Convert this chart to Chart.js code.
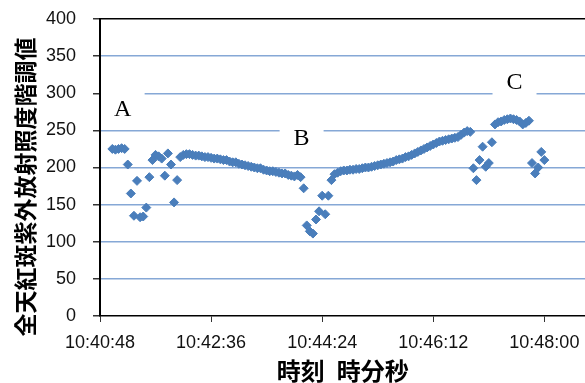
<!DOCTYPE html>
<html>
<head>
<meta charset="utf-8">
<script src="https://cdn.jsdelivr.net/npm/chart.js@4.4.0/dist/chart.umd.min.js"></script>
<style>
    html, body { margin: 0; padding: 0; background: #fff; overflow: hidden; }
    #wrap { width: 591px; height: 383px; }
</style>
</head>
<body>
<div id="wrap"><canvas id="uvChart"></canvas></div>
<script>
// measurement every 3 seconds starting at 10:41:00
var startTime = '10:41:00';
var stepSeconds = 3;
var uvValues = [
    225, 224, 225, 226, 225,
    204, 165, 135, 182, 133, 134, 146, 187, 210, 217, 215, 212, 189, 219, 204, 153, 183, 214,
    217, 218, 218, 217, 216, 216, 215, 214, 214, 213, 212, 212, 211, 210, 210, 208, 207, 207, 205, 204,
    203, 202, 201, 200, 199, 199, 197, 196, 195, 195, 194, 193, 192, 192, 190, 189, 188, 190, 187,
    172, 122, 114, 111, 130, 141, 162, 137, 162, 183, 191,
    193, 195, 196, 196, 197, 197, 198, 198, 199, 200, 200, 201, 202, 203, 204, 205, 206, 207, 208, 210,
    211, 212, 214, 215, 217, 219, 221, 223, 225, 227, 229, 231, 233, 235, 236, 237, 238, 239, 240, 241,
    244, 247, 249, 248,
    199, 183, 210, 228, 201, 206, 234,
    258, 261, 262, 264, 265, 266, 265, 264, 262, 258, 260, 263,
    206, 192, 200, 221, 210
];
var xTickLabels = ['10:40:48', '10:42:36', '10:44:24', '10:46:12', '10:48:00'];
var xAxisEnd = '10:48:40';
var yMin = 0, yMax = 400, yStep = 50;

var yTitle = '全天紅斑紫外放射照度階調値';
var xTitle = '時刻\u2002時分秒';

// letters marking the three zones of the recording
var notes = [
    { text: 'A', time: '10:41:10', value: 280 },
    { text: 'B', time: '10:44:04', value: 241 },
    { text: 'C', time: '10:47:31', value: 317 }
];

function toSec(t) {
    var p = t.split(':');
    return (+p[0]) * 3600 + (+p[1]) * 60 + (+p[2]);
}

function pad2(n) {
    return (n < 10 ? '0' : '') + n;
}

function fmtTime(s) {
    s = Math.round(s);
    return Math.floor(s / 3600) + ':' + pad2(Math.floor(s / 60) % 60) + ':' + pad2(s % 60);
}

var t0 = toSec(startTime);
var points = uvValues.map(function (v, i) {
    return { x: t0 + i * stepSeconds, y: v };
});
var xTickValues = xTickLabels.map(toSec);

var notesPlugin = {
    id: 'notes',
    beforeDatasetsDraw: function (chart) {
        var ctx = chart.ctx, xs = chart.scales.x, ys = chart.scales.y;
        ctx.save();
        ctx.font = '24px "Liberation Serif"';
        ctx.textAlign = 'center';
        ctx.textBaseline = 'alphabetic';
        notes.forEach(function (n) {
            var cx = xs.getPixelForValue(toSec(n.time));
            var cy = ys.getPixelForValue(n.value);
            var left = Math.max(cx - 22, chart.chartArea.left + 1);
            ctx.fillStyle = '#fff';
            ctx.fillRect(left, cy - 17, cx + 22 - left, 34);
            ctx.fillStyle = '#000';
            ctx.fillText(n.text, cx, cy + 8);
        });
        ctx.restore();
    },
    afterDraw: function (chart) {
        var ctx = chart.ctx;
        ctx.save();
        ctx.translate(25, 187);
        ctx.rotate(-Math.PI / 2);
        ctx.font = 'bold 23px "Noto Sans CJK JP"';
        ctx.fillStyle = '#000';
        ctx.textAlign = 'center';
        ctx.textBaseline = 'middle';
        ctx.fillText(yTitle, 0, 0);
        ctx.restore();
    }
};

var tickFont = { family: '"Liberation Sans", Arial, sans-serif', size: 18 };

new Chart(document.getElementById('uvChart'), {
    type: 'scatter',
    data: {
        datasets: [{
            data: points,
            pointStyle: 'rectRot',
            pointRadius: 4.5,
            pointBackgroundColor: '#4a7ebb',
            pointBorderColor: '#4a7ebb',
            pointBorderWidth: 1,
            showLine: false
        }]
    },
    options: {
        responsive: true,
        maintainAspectRatio: false,
        animation: false,
        layout: { padding: { top: 19, right: 0, bottom: 0, left: 0 } },
        plugins: {
            legend: { display: false },
            tooltip: { enabled: false }
        },
        scales: {
            x: {
                type: 'linear',
                min: xTickValues[0],
                max: toSec(xAxisEnd),
                afterBuildTicks: function (scale) {
                    scale.ticks = xTickValues.map(function (v) { return { value: v }; });
                },
                afterFit: function (scale) {
                    scale.height = 67;
                    scale.paddingLeft = 0;
                    scale.paddingRight = 0;
                },
                ticks: {
                    font: tickFont,
                    color: '#111',
                    padding: 10,
                    maxRotation: 0,
                    autoSkip: false,
                    callback: function (v) { return fmtTime(v); }
                },
                grid: {
                    drawOnChartArea: false,
                    drawTicks: true,
                    tickLength: 6,
                    tickColor: '#333'
                },
                border: { color: '#000', width: 1.5 },
                title: {
                    display: true,
                    text: xTitle,
                    font: { family: '"Noto Sans CJK JP"', size: 24, weight: 'bold', lineHeight: 1 },
                    color: '#000',
                    padding: { top: 0, bottom: 0 }
                }
            },
            y: {
                min: yMin,
                max: yMax,
                afterFit: function (scale) {
                    scale.width = 100;
                    scale.paddingTop = 0;
                    scale.paddingBottom = 0;
                },
                ticks: {
                    stepSize: yStep,
                    font: tickFont,
                    color: '#111',
                    padding: 17
                },
                grid: {
                    color: function (c) {
                        if (c.tick.value === yMax) return '#000';
                        if (c.tick.value === yMin) return 'rgba(0,0,0,0)';
                        return '#86a8d6';
                    },
                    lineWidth: 1.5,
                    tickLength: 7,
                    tickColor: '#333'
                },
                border: { color: '#000', width: 2 }
            }
        }
    },
    plugins: [notesPlugin]
});
</script>
</body>
</html>
